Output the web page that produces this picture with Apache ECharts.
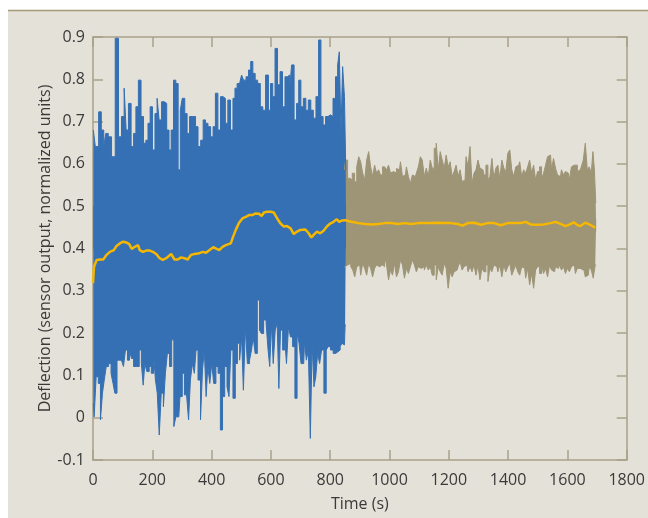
<!DOCTYPE html>
<html>
<head>
<meta charset="utf-8">
<script src="https://cdn.jsdelivr.net/npm/echarts@6/dist/echarts.min.js"></script>
<style>
  html, body { margin: 0; padding: 0; background: #fff; }
  #container { width: 648px; height: 518px; }
</style>
</head>
<body>
<div id="container"></div>
<script>
// x ticks / y ticks
const xTicks = [0, 200, 400, 600, 800, 1000, 1200, 1400, 1600, 1800];
const yTicks = [-0.1, 0, 0.1, 0.2, 0.3, 0.4, 0.5, 0.6, 0.7, 0.8, 0.9];

// first run (blue): upper and lower envelope of the raw signal, [time s, deflection]
const blueUpper = [
  [1.1,0.680],[14.5,0.641],[23.5,0.723],[32.4,0.680],[40.2,0.641],[45.8,0.672],[57.0,0.664],[68.2,0.617],
  [81.6,0.897],[90.5,0.664],[101.7,0.712],[108.4,0.779],[115.1,0.680],[124.0,0.743],[133.0,0.641],[140.8,0.672],
  [148.6,0.735],[157.5,0.798],[166.5,0.712],[174.3,0.649],[182.1,0.656],[188.8,0.696],[196.6,0.735],[204.5,0.633],
  [213.4,0.719],[219.0,0.755],[226.8,0.704],[235.7,0.747],[244.7,0.743],[252.5,0.680],[260.3,0.633],[267.0,0.680],
  [276.0,0.798],[282.7,0.790],[291.6,0.586],[297.2,0.727],[305.0,0.755],[314.0,0.719],[320.7,0.672],[330.7,0.712],
  [341.9,0.712],[349.7,0.688],[358.7,0.641],[367.6,0.656],[375.4,0.704],[383.2,0.696],[392.2,0.688],[401.1,0.664],
  [408.9,0.688],[416.8,0.767],[425.7,0.680],[434.6,0.759],[442.5,0.755],[450.3,0.696],[459.2,0.751],[468.1,0.680],
  [476.0,0.755],[481.6,0.779],[490.5,0.790],[498.3,0.790],[503.9,0.810],[511.7,0.798],[520.7,0.806],[528.5,0.822],
  [535.2,0.842],[543.0,0.814],[550.8,0.798],[559.8,0.790],[568.7,0.735],[576.5,0.727],[587.7,0.810],[595.5,0.727],
  [602.2,0.790],[610.0,0.759],[617.9,0.873],[626.8,0.787],[634.6,0.818],[643.6,0.735],[651.4,0.806],[660.3,0.810],
  [665.9,0.775],[673.7,0.834],[682.7,0.704],[690.5,0.743],[697.2,0.798],[705.0,0.735],[714.0,0.755],[721.8,0.727],
  [730.7,0.751],[738.5,0.727],[747.5,0.708],[756.4,0.759],[765.4,0.893],[772.1,0.712],[779.9,0.692],[788.8,0.712],
  [796.6,0.716],[805.6,0.712],[813.4,0.755],[822.3,0.806],[827.9,0.834],[833.5,0.865],[839.1,0.672],[844.7,0.830],
  [851.4,0.759],[853.5,0.586]
];
const blueLower = [
  [1.1,0.034],[6.7,0.002],[14.5,0.097],[21.2,0.081],[29.1,-0.005],[34.6,0.058],[41.3,0.089],[48.0,0.121],
  [57.0,0.128],[64.8,0.105],[70.4,0.081],[77.1,0.058],[84.9,0.136],[92.7,0.136],[99.4,0.136],[106.1,0.121],
  [112.8,0.160],[119.6,0.136],[126.3,0.160],[133.0,0.140],[140.8,0.121],[146.4,0.121],[152.0,0.121],[159.8,0.160],
  [166.5,0.128],[172.1,0.077],[177.7,0.128],[185.5,0.109],[193.3,0.121],[200.0,0.105],[207.8,0.152],[213.4,0.089],
  [220.1,0.058],[226.8,-0.041],[233.5,0.058],[241.3,0.026],[246.9,0.105],[254.7,0.152],[261.4,0.121],[269.3,0.184],
  [276.0,-0.021],[282.7,0.002],[289.4,0.002],[297.2,0.050],[305.0,0.105],[311.7,0.054],[319.5,0.058],[325.1,-0.005],
  [331.8,0.089],[338.5,0.128],[345.2,0.105],[349.7,0.160],[358.7,0.089],[366.5,-0.005],[372.1,0.113],[378.8,0.160],
  [384.4,0.050],[389.9,0.121],[397.8,0.081],[403.3,0.128],[411.2,0.081],[417.9,0.121],[425.7,0.105],[433.5,-0.029],
  [440.2,0.050],[448.0,0.121],[455.9,0.073],[461.4,0.050],[468.1,0.160],[476.0,0.046],[483.8,0.128],[490.5,0.176],
  [498.3,0.136],[503.9,0.191],[510.6,0.065],[517.3,0.215],[524.0,0.128],[531.8,0.136],[537.4,0.160],[543.0,0.191],
  [550.8,0.152],[557.5,0.278],[565.4,0.207],[570.9,0.199],[579.9,0.231],[587.7,0.223],[593.3,0.160],[598.9,0.121],
  [604.5,0.223],[611.2,0.128],[617.9,0.207],[624.6,0.223],[629.0,0.069],[635.7,0.207],[643.6,0.160],[649.2,0.191],
  [655.9,0.128],[662.6,0.215],[669.3,0.191],[677.1,0.168],[684.9,0.046],[691.6,0.199],[698.3,0.176],[705.0,0.128],
  [710.6,0.128],[716.2,0.180],[722.9,0.136],[729.6,0.160],[736.3,-0.049],[741.9,0.176],[748.6,0.073],[754.2,0.097],
  [760.9,0.152],[767.6,0.128],[774.3,0.160],[783.2,0.058],[789.9,0.160],[796.6,0.168],[805.6,0.160],[814.5,0.152],
  [822.3,0.156],[830.2,0.160],[836.9,0.168],[842.4,0.176],[848.0,0.172],[852.5,0.219],[853.5,0.219]
];

// second run (tan): upper and lower envelope
const tanUpper = [
  [848.0,0.586],[855.9,0.609],[861.5,0.566],[870.5,0.562],[878.3,0.578],[886.1,0.558],[892.8,0.593],[899.5,0.617],
  [906.2,0.605],[912.9,0.578],[919.6,0.562],[926.3,0.609],[933.0,0.629],[939.7,0.593],[946.4,0.570],[953.1,0.597],
  [959.8,0.578],[966.5,0.586],[973.2,0.574],[980.0,0.593],[986.7,0.597],[993.4,0.586],[1000.1,0.597],[1006.8,0.578],
  [1013.5,0.582],[1020.2,0.578],[1026.9,0.589],[1033.6,0.586],[1040.3,0.605],[1047.0,0.570],[1053.7,0.574],[1060.4,0.593],
  [1067.1,0.570],[1073.8,0.554],[1080.5,0.574],[1087.2,0.570],[1093.9,0.578],[1100.6,0.593],[1107.3,0.617],[1114.0,0.609],
  [1120.7,0.570],[1127.4,0.590],[1134.1,0.570],[1140.8,0.609],[1147.5,0.590],[1154.3,0.637],[1161.0,0.649],[1167.7,0.586],
  [1174.4,0.629],[1181.1,0.609],[1187.8,0.590],[1194.5,0.621],[1201.2,0.593],[1207.9,0.605],[1214.6,0.570],[1221.3,0.582],
  [1228.0,0.597],[1234.7,0.570],[1241.4,0.586],[1248.1,0.558],[1254.8,0.562],[1261.5,0.617],[1268.2,0.593],[1274.9,0.641],
  [1281.6,0.554],[1288.3,0.578],[1295.0,0.586],[1301.7,0.609],[1308.4,0.590],[1315.1,0.586],[1321.8,0.574],[1328.6,0.597],
  [1335.3,0.562],[1342.0,0.570],[1348.7,0.613],[1355.4,0.566],[1362.1,0.590],[1368.8,0.597],[1375.5,0.566],[1382.2,0.609],
  [1388.9,0.590],[1395.6,0.582],[1402.3,0.625],[1409.0,0.633],[1415.7,0.586],[1422.4,0.570],[1429.1,0.593],[1435.8,0.597],
  [1442.5,0.605],[1449.2,0.570],[1455.9,0.586],[1462.6,0.578],[1469.3,0.593],[1476.0,0.609],[1482.7,0.578],[1489.4,0.597],
  [1496.1,0.562],[1502.8,0.582],[1509.6,0.593],[1516.3,0.566],[1523.0,0.578],[1529.7,0.597],[1536.4,0.617],[1543.1,0.621],
  [1549.8,0.586],[1556.5,0.613],[1563.2,0.590],[1569.9,0.574],[1576.6,0.570],[1583.3,0.586],[1590.0,0.574],[1596.7,0.582],
  [1603.4,0.578],[1610.1,0.562],[1616.8,0.593],[1623.5,0.597],[1630.2,0.597],[1636.9,0.582],[1643.6,0.586],[1650.3,0.593],
  [1657.0,0.609],[1663.7,0.649],[1670.4,0.586],[1677.1,0.593],[1683.8,0.578],[1688.3,0.629],[1693.9,0.586],[1697.2,0.507]
];
const tanLower = [
  [848.0,0.357],[859.3,0.361],[866.0,0.365],[872.7,0.357],[879.4,0.349],[886.1,0.333],[892.8,0.357],[899.5,0.361],
  [906.2,0.337],[912.9,0.365],[919.6,0.353],[926.3,0.337],[933.0,0.365],[939.7,0.353],[946.4,0.333],[953.1,0.353],
  [959.8,0.361],[966.5,0.357],[973.2,0.361],[980.0,0.357],[986.7,0.381],[993.4,0.361],[1000.1,0.326],[1006.8,0.349],
  [1013.5,0.337],[1020.2,0.365],[1026.9,0.333],[1033.6,0.345],[1040.3,0.373],[1047.0,0.361],[1053.7,0.330],[1060.4,0.353],
  [1067.1,0.341],[1073.8,0.357],[1080.5,0.373],[1087.2,0.361],[1093.9,0.345],[1100.6,0.357],[1107.3,0.353],[1114.0,0.357],
  [1120.7,0.349],[1127.4,0.361],[1134.1,0.349],[1140.8,0.357],[1147.5,0.337],[1154.3,0.361],[1161.0,0.326],[1167.7,0.357],
  [1174.4,0.345],[1181.1,0.337],[1187.8,0.365],[1194.5,0.353],[1201.2,0.306],[1207.9,0.345],[1214.6,0.333],[1221.3,0.345],
  [1228.0,0.349],[1234.7,0.357],[1241.4,0.369],[1248.1,0.349],[1254.8,0.357],[1261.5,0.361],[1268.2,0.345],[1274.9,0.357],
  [1281.6,0.345],[1288.3,0.361],[1295.0,0.337],[1301.7,0.361],[1308.4,0.326],[1315.1,0.353],[1321.8,0.345],[1328.6,0.361],
  [1335.3,0.322],[1342.0,0.353],[1348.7,0.345],[1355.4,0.361],[1362.1,0.357],[1368.8,0.345],[1375.5,0.361],[1382.2,0.333],
  [1388.9,0.361],[1395.6,0.345],[1402.3,0.357],[1409.0,0.365],[1415.7,0.337],[1422.4,0.349],[1429.1,0.361],[1435.8,0.345],
  [1442.5,0.337],[1449.2,0.357],[1455.9,0.353],[1462.6,0.330],[1469.3,0.353],[1476.0,0.314],[1482.7,0.341],[1489.4,0.306],
  [1496.1,0.349],[1502.8,0.357],[1509.6,0.341],[1516.3,0.361],[1523.0,0.341],[1529.7,0.353],[1536.4,0.333],[1543.1,0.361],
  [1549.8,0.349],[1556.5,0.345],[1563.2,0.357],[1569.9,0.353],[1576.6,0.361],[1583.3,0.349],[1590.0,0.357],[1596.7,0.341],
  [1603.4,0.353],[1610.1,0.345],[1616.8,0.357],[1623.5,0.361],[1630.2,0.341],[1636.9,0.353],[1643.6,0.353],[1650.3,0.349],
  [1657.0,0.357],[1663.7,0.333],[1670.4,0.337],[1677.1,0.357],[1683.8,0.349],[1690.5,0.330],[1697.2,0.361]
];

// running mean (yellow)
const meanLine = [
  [0,0.318],[3.4,0.357],[12.3,0.373],[23.5,0.374],[34.6,0.374],[45.8,0.385],[57.0,0.392],[70.4,0.396],
  [79.3,0.406],[90.5,0.412],[101.7,0.416],[112.8,0.414],[121.8,0.411],[130.7,0.399],[140.8,0.404],[152.0,0.408],
  [157.5,0.396],[168.7,0.392],[179.9,0.395],[191.1,0.395],[202.2,0.392],[213.4,0.387],[224.6,0.377],[235.7,0.373],
  [246.9,0.377],[263.7,0.387],[274.9,0.374],[286.0,0.374],[297.2,0.379],[308.4,0.377],[319.5,0.374],[330.7,0.385],
  [341.9,0.387],[358.7,0.389],[369.8,0.392],[381.0,0.390],[392.2,0.396],[405.6,0.403],[414.5,0.400],[425.7,0.396],
  [436.9,0.404],[448.0,0.408],[464.8,0.412],[472.6,0.428],[481.6,0.444],[492.7,0.461],[503.9,0.471],[515.1,0.475],
  [526.2,0.479],[537.4,0.479],[548.6,0.483],[559.8,0.482],[568.7,0.477],[576.5,0.485],[587.7,0.487],[598.9,0.487],
  [610.0,0.485],[621.2,0.471],[632.4,0.459],[643.6,0.452],[654.7,0.453],[665.9,0.448],[677.1,0.434],[688.3,0.440],
  [699.4,0.444],[716.2,0.445],[727.4,0.436],[736.3,0.426],[744.1,0.432],[755.3,0.440],[766.5,0.436],[777.7,0.442],
  [788.8,0.452],[800.0,0.459],[811.2,0.463],[822.3,0.469],[830.2,0.463],[839.1,0.466],[850.3,0.467],[861.0,0.465],
  [872.7,0.463],[895.0,0.460],[917.4,0.458],[939.7,0.457],[962.1,0.458],[984.4,0.460],[1006.8,0.460],[1029.1,0.458],
  [1051.5,0.460],[1073.8,0.458],[1096.2,0.460],[1118.5,0.460],[1140.8,0.460],[1163.2,0.461],[1185.5,0.460],[1207.9,0.460],
  [1230.2,0.458],[1247.0,0.454],[1263.7,0.460],[1286.1,0.461],[1308.4,0.456],[1330.8,0.460],[1353.1,0.460],[1375.5,0.455],
  [1397.8,0.460],[1420.2,0.460],[1442.5,0.460],[1459.3,0.463],[1476.0,0.457],[1498.4,0.456],[1520.7,0.457],[1543.1,0.460],
  [1559.8,0.463],[1576.6,0.458],[1593.3,0.453],[1604.5,0.456],[1621.3,0.462],[1632.4,0.456],[1643.6,0.453],[1660.4,0.461],
  [1677.1,0.456],[1693.9,0.449]
];

const BLUE = '#3570b4';
const TAN = '#9e9577';
const GOLD = '#f6b700';
const AXIS = '#a8a189';
const FONT = 'Open Sans';
const TXT = '#3a3a3a';

const chartIns = echarts.init(document.getElementById('container'));

// area drawn from a level inside the band, so upper + lower fill the whole envelope
function band(data, color, origin) {
  return {
    type: 'line',
    data: data,
    step: 'middle',
    showSymbol: false,
    symbol: 'none',
    silent: true,
    lineStyle: { color: color, width: 1 },
    areaStyle: { color: color, opacity: 1, origin: origin }
  };
}

const axisLbl = { color: TXT, fontSize: 16, fontFamily: FONT };
const tickStyle = { show: true, inside: true, length: 10, lineStyle: { color: AXIS, width: 1.5 } };
const lineStyle = { show: true, onZero: false, lineStyle: { color: AXIS, width: 1.5 } };

const option = {
  animation: false,
  backgroundColor: '#e4e1d8',
  textStyle: { fontFamily: FONT },
  graphic: [
    { type: 'rect', left: 0, top: 0, shape: { width: 648, height: 10 }, style: { fill: '#fff' }, z: 100 },
    { type: 'rect', left: 0, top: 0, shape: { width: 8, height: 518 }, style: { fill: '#fff' }, z: 100 },
    { type: 'line', shape: { x1: 8, y1: 10.5, x2: 648, y2: 10.5 }, style: { stroke: '#a39a78', lineWidth: 1.5 }, z: 100 }
  ],
  grid: { left: 93, right: 18, top: 37, bottom: 58 },
  xAxis: [
    {
      type: 'value', min: xTicks[0], max: xTicks[xTicks.length - 1], interval: 200,
      name: 'Time (s)', nameLocation: 'middle', nameGap: 36,
      nameTextStyle: { color: TXT, fontSize: 16, fontFamily: FONT },
      axisLine: lineStyle,
      axisTick: tickStyle,
      axisLabel: Object.assign({ margin: 12, formatter: v => String(v) }, axisLbl),
      splitLine: { show: false }
    },
    {
      type: 'value', position: 'top', min: xTicks[0], max: xTicks[xTicks.length - 1], interval: 200,
      axisLine: lineStyle,
      axisTick: tickStyle,
      axisLabel: { show: false },
      splitLine: { show: false }
    }
  ],
  yAxis: [
    {
      type: 'value', min: yTicks[0], max: yTicks[yTicks.length - 1], interval: 0.1,
      name: 'Deflection (sensor output, normalized units)', nameLocation: 'middle', nameGap: 40,
      nameMoveOverlap: false,
      nameTextStyle: { color: TXT, fontSize: 16, fontFamily: FONT },
      axisLine: lineStyle,
      axisTick: tickStyle,
      axisLabel: Object.assign({ margin: 8, formatter: v => String(Math.round(v * 10) / 10) }, axisLbl),
      splitLine: { show: false }
    },
    {
      type: 'value', position: 'right', min: yTicks[0], max: yTicks[yTicks.length - 1], interval: 0.1,
      axisLine: lineStyle,
      axisTick: tickStyle,
      axisLabel: { show: false },
      splitLine: { show: false }
    }
  ],
  series: [
    band(tanUpper, TAN, 0.44),
    band(tanLower, TAN, 0.47),
    band(blueUpper, BLUE, 0.40),
    band(blueLower, BLUE, 0.50),
    {
      type: 'line',
      data: meanLine,
      showSymbol: false,
      symbol: 'none',
      lineStyle: { color: GOLD, width: 2.5 },
      z: 5
    }
  ]
};

chartIns.setOption(option);
</script>
</body>
</html>
